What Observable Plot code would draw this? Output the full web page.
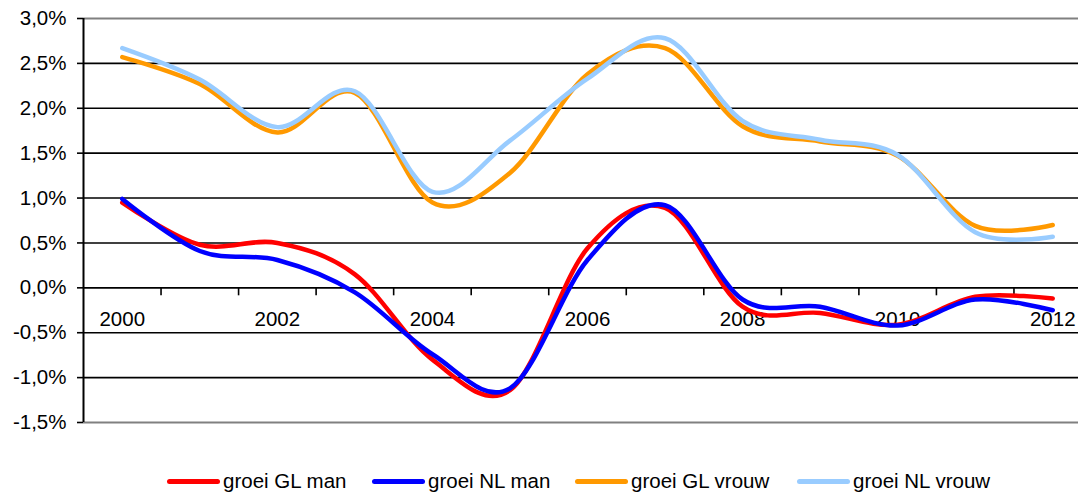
<!DOCTYPE html>
<html>
<head>
<meta charset="utf-8">
<script src="https://cdn.jsdelivr.net/npm/d3@7"></script>
<script src="https://cdn.jsdelivr.net/npm/@observablehq/plot@0.6"></script>
<style>
  html, body { margin: 0; padding: 0; background: #fff; }
  body { width: 1078px; height: 496px; overflow: hidden; font-family: "Liberation Sans", Arial, sans-serif; }
  #legend { position: relative; height: 41px; }
  .item { position: absolute; top: 14px; display: flex; align-items: center; font-size: 20.5px; color: #000; white-space: nowrap; }
  .sw { width: 53px; height: 5px; border-radius: 3px; margin-right: 3px; }
</style>
</head>
<body>
<div id="chart"></div>
<div id="legend"></div>
<script>
const years = [2000, 2001, 2002, 2003, 2004, 2005, 2006, 2007, 2008, 2009, 2010, 2011, 2012];
const glMan   = [0.95, 0.48, 0.50, 0.15, -0.80, -1.14, 0.44, 0.89, -0.21, -0.28, -0.41, -0.10, -0.12];
const nlMan   = [0.99, 0.41, 0.31, -0.05, -0.74, -1.12, 0.31, 0.92, -0.13, -0.21, -0.42, -0.13, -0.25];
const glVrouw = [2.57, 2.27, 1.73, 2.17, 0.95, 1.28, 2.38, 2.67, 1.80, 1.63, 1.47, 0.69, 0.70];
const nlVrouw = [2.67, 2.32, 1.79, 2.19, 1.07, 1.64, 2.33, 2.78, 1.86, 1.65, 1.48, 0.62, 0.57];
const seriesNames = ["groei GL man", "groei NL man", "groei GL vrouw", "groei NL vrouw"];
const seriesColors = ["#ff0000", "#0000ff", "#ff9900", "#99ccff"];
const yTicks = [-1.5, -1.0, -0.5, 0.0, 0.5, 1.0, 1.5, 2.0, 2.5, 3.0];
const xLabels = [2000, 2002, 2004, 2006, 2008, 2010, 2012];
const xBounds = [2000.5, 2001.5, 2002.5, 2003.5, 2004.5, 2005.5, 2006.5, 2007.5, 2008.5, 2009.5, 2010.5, 2011.5];

const allSeries = [glMan, nlMan, glVrouw, nlVrouw];
const rows = [];
allSeries.forEach((vals, si) => vals.forEach((v, i) => rows.push({year: years[i], value: v, series: seriesNames[si]})));

const fmt = d => d.toFixed(1).replace(".", ",") + "%";

const chart = Plot.plot({
  width: 1078,
  height: 455,
  marginTop: 18,
  marginBottom: 33,
  marginLeft: 83,
  marginRight: 0,
  style: {fontFamily: "'Liberation Sans', Arial, sans-serif", fontSize: "20px", color: "#000", background: "#fff"},
  x: {domain: [1999.5, 2012.5], range: [83, 1091], axis: null},
  y: {domain: [-1.5, 3.0], range: [422, 18], axis: null},
  color: {domain: seriesNames, range: seriesColors},
  marks: [
    Plot.ruleY(yTicks.filter(d => d > -1.5 && d < 3.0), {stroke: "#000", strokeWidth: 1.6}),
    Plot.ruleY([-1.5, 3.0], {stroke: "#808080", strokeWidth: 2}),
    Plot.ruleX(xBounds, {y1: 0, y2: -8 / 90, stroke: "#000", strokeWidth: 1.6}),
    Plot.axisY(yTicks, {tickFormat: fmt, tickSize: 6, tickPadding: 11, fontSize: 20.5, stroke: "#000", strokeWidth: 1.6, label: null}),
    Plot.ruleX([1999.5], {y1: -1.5, y2: 3.0, stroke: "#000", strokeWidth: 2}),
    Plot.text(xLabels, {x: d => d, y: 0, dy: 32, text: d => String(d), fontSize: 20.5, fill: "#000"}),
    Plot.line(rows, {x: "year", y: "value", z: "series", stroke: "series", strokeWidth: 4.5, curve: "cardinal", tension: 0})
  ]
});
document.getElementById("chart").appendChild(chart);

const legend = document.getElementById("legend");
const lefts = [167, 372, 575, 797];
seriesNames.forEach((name, i) => {
  const item = document.createElement("div");
  item.className = "item";
  item.style.left = lefts[i] + "px";
  const sw = document.createElement("div");
  sw.className = "sw";
  sw.style.background = seriesColors[i];
  const t = document.createElement("span");
  t.textContent = name;
  item.appendChild(sw);
  item.appendChild(t);
  legend.appendChild(item);
});
</script>
</body>
</html>
